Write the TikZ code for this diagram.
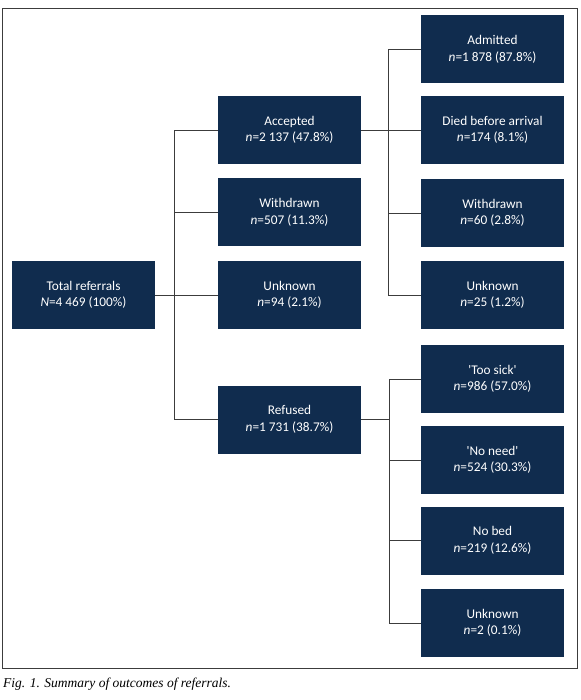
\documentclass[tikz,border=0pt]{standalone}
\usepackage{fontspec}
\setmainfont{Carlito}
\newfontfamily\capfont{Liberation Serif}
\definecolor{navy}{RGB}{16,44,78}
\definecolor{linegray}{RGB}{60,60,60}

\begin{document}
\begin{tikzpicture}[x=1pt, y=-1pt,
    block/.style={fill=navy, text=white, minimum width=143pt, minimum height=68pt, align=center,
      inner sep=0pt, font=\fontsize{13.3}{16.5}\selectfont},
    link/.style={draw=linegray, line width=0.8pt}]
    \useasboundingbox (0,0) rectangle (580,700);
    \draw[linegray, line width=0.9pt] (2,8) rectangle (577,668);
    % first level
    \node[block] (total) at (83.5, 295) {Total referrals\\\textit{N}=4 469 (100\%)};
    % second level
    \node[block] (accepted) at (289.5, 130) {Accepted\\\textit{n}=2 137 (47.8\%)};
    \node[block] (withdrawn) at (289.5, 212.5) {Withdrawn\\\textit{n}=507 (11.3\%)};
    \node[block] (unknown) at (289.5, 295) {Unknown\\\textit{n}=94 (2.1\%)};
    \node[block] (refused) at (289.5, 419.5) {Refused\\\textit{n}=1 731 (38.7\%)};
    % third level: accepted
    \node[block] (admitted) at (492.5, 49.5) {Admitted\\\textit{n}=1 878 (87.8\%)};
    \node[block] (died) at (492.5, 130) {Died before arrival\\\textit{n}=174 (8.1\%)};
    \node[block] (withdrawnb) at (492.5, 213) {Withdrawn\\\textit{n}=60 (2.8\%)};
    \node[block] (unknownb) at (492.5, 295) {Unknown\\\textit{n}=25 (1.2\%)};
    % third level: refused
    \node[block] (toosick) at (492.5, 379) {\textquotesingle Too sick\textquotesingle\\\textit{n}=986 (57.0\%)};
    \node[block] (noneed) at (492.5, 460) {\textquotesingle No need\textquotesingle\\\textit{n}=524 (30.3\%)};
    \node[block] (nobed) at (492.5, 540.5) {No bed\\\textit{n}=219 (12.6\%)};
    \node[block] (unknownc) at (492.5, 623) {Unknown\\\textit{n}=2 (0.1\%)};
    % trunks
    \coordinate (ltrunk) at (174, 295);
    \coordinate (utrunk) at (388, 130);
    \coordinate (btrunk) at (389, 419.5);
    % connectors
    \draw[link] (total) -- (unknown);
    \draw[link] (accepted.west) -- (accepted.west -| ltrunk) |- (refused.west);
    \draw[link] (withdrawn.west) -- (withdrawn.west -| ltrunk);
    \draw[link] (accepted) -- (died);
    \draw[link] (admitted.west) -- (admitted.west -| utrunk) |- (unknownb.west);
    \draw[link] (withdrawnb.west) -- (withdrawnb.west -| utrunk);
    \draw[link] (refused.east) -- (btrunk);
    \draw[link] (toosick.west) -- (toosick.west -| btrunk) |- (unknownc.west);
    \draw[link] (noneed.west) -- (noneed.west -| btrunk);
    \draw[link] (nobed.west) -- (nobed.west -| btrunk);
    % caption
    \node[anchor=base west, inner sep=0pt, font=\capfont\itshape\fontsize{13.5}{16}\selectfont] (caption) at (3, 687)
      {Fig. 1. Summary of outcomes of referrals.};
\end{tikzpicture}
\end{document}
